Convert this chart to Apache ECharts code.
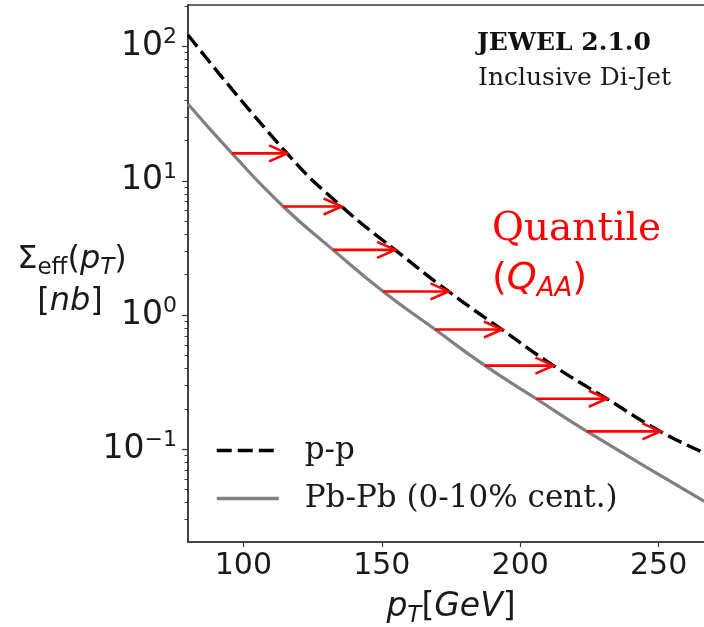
<!DOCTYPE html>
<html><head><meta charset="utf-8">
<script src="https://cdn.jsdelivr.net/npm/echarts@6/dist/echarts.min.js"></script>
<style>html,body{margin:0;padding:0;background:#fff}#c{width:704px;height:627px}</style>
</head><body><div id="c"></div>
<script>
// p-p (dashed black)
const ppX = [80, 115.8, 135.5, 154.8, 174.1, 193.4, 212, 231.3, 250.6, 266.5];
const ppY = [122, 16, 6.44, 3.06, 1.5, 0.78, 0.42, 0.238, 0.136, 0.094];
// Pb-Pb 0-10% (solid grey)
const pbX = [80, 95.9, 114.4, 132.4, 150.5, 169.3, 187.3, 205.8, 224.1, 266.5];
const pbY = [37.3, 16, 6.44, 3.06, 1.5, 0.78, 0.42, 0.238, 0.136, 0.041];
// quantile arrows
const arrowFrom = [95.9, 114.4, 132.4, 150.5, 169.3, 187.3, 205.8, 224.1];
const arrowTo = [115.8, 135.5, 154.8, 174.1, 193.4, 212, 231.3, 250.6];
const arrowY = [16, 6.44, 3.06, 1.5, 0.78, 0.42, 0.238, 0.136];
// ticks
const xTicks = [100, 150, 200, 250];
const yMajor = [0.1, 1, 10, 100];
const yMinor = [0.03,0.04,0.05,0.06,0.07,0.08,0.09,0.2,0.3,0.4,0.5,0.6,0.7,0.8,0.9,2,3,4,5,6,7,8,9,20,30,40,50,60,70,80,90,200];
const names = ['p-p', 'Pb-Pb (0-10% cent.)'];

const X_MIN = 80, X_MAX = 270, Y_MIN = 0.0204, Y_MAX = 204;
const sans = '"DejaVu Sans"', serif = '"DejaVu Serif"';
const spine = '#3a3a3a';

const chart = echarts.init(document.getElementById('c'), null, {renderer: 'canvas'});

const yLogAxisBase = {type: 'log', logBase: 10, min: Y_MIN, max: Y_MAX, gridIndex: 0, position: 'left'};

chart.setOption({
  animation: false,
  backgroundColor: '#fff',
  grid: {left: 188, right: -10, top: 5, bottom: 85, show: true, borderColor: spine, borderWidth: 1.6,
         backgroundColor: 'transparent', containLabel: false, outerBoundsMode: 'none'},
  legend: {
    data: names, orient: 'vertical', left: 215, top: 435, padding: 0,
    itemWidth: 62, itemHeight: 30, itemGap: 17, selectedMode: false,
    itemStyle: {opacity: 0},
    lineStyle: {width: 3.5},
    textStyle: {fontFamily: serif, fontSize: 31, color: '#1a1a1a', padding: [0, 0, 0, 21]}
  },
  xAxis: {
    type: 'value', min: X_MIN, max: X_MAX,
    axisLine: {show: true, lineStyle: {color: spine, width: 1.6}},
    axisTick: {show: true, length: 5, customValues: xTicks, lineStyle: {color: spine, width: 1.2}},
    axisLabel: {customValues: xTicks, fontFamily: sans, fontSize: 30, color: '#1a1a1a', margin: 9},
    splitLine: {show: false},
    name: '{i|p}{isub|T}{s|[}{i|GeV}{s|]}',
    nameLocation: 'middle', nameGap: 44,
    nameTextStyle: {
      rich: {
        i: {fontFamily: sans, fontStyle: 'italic', fontSize: 33, color: '#1a1a1a', lineHeight: 42, verticalAlign: 'middle'},
        s: {fontFamily: sans, fontSize: 33, color: '#1a1a1a', lineHeight: 42, verticalAlign: 'middle'},
        isub: {fontFamily: sans, fontStyle: 'italic', fontSize: 23, color: '#1a1a1a', lineHeight: 26, verticalAlign: 'bottom'}
      }
    }
  },
  yAxis: [
    Object.assign({}, yLogAxisBase, {
      axisLine: {show: true, lineStyle: {color: spine, width: 1.6}},
      axisTick: {show: true, length: 6, customValues: yMajor, lineStyle: {color: spine, width: 1.2}},
      axisLabel: {
        customValues: yMajor, margin: 11,
        formatter: function (v) {
          const e = Math.round(Math.log10(v));
          return '{b|10}{s|' + (e < 0 ? '\u2212' + (-e) : e) + '}';
        },
        rich: {
          b: {fontFamily: sans, fontSize: 33, color: '#1a1a1a', lineHeight: 40, verticalAlign: 'middle'},
          s: {fontFamily: sans, fontSize: 22, color: '#1a1a1a', lineHeight: 26, verticalAlign: 'top'}
        }
      },
      splitLine: {show: false}
    }),
    Object.assign({}, yLogAxisBase, {
      axisLine: {show: false},
      axisTick: {show: true, length: 3.5, customValues: yMinor, lineStyle: {color: spine, width: 1}},
      axisLabel: {show: false},
      splitLine: {show: false}
    })
  ],
  series: [
    {
      name: names[0], type: 'line', yAxisIndex: 0, symbol: 'none', smooth: 0.5,
      data: ppX.map((x, i) => [x, ppY[i]]),
      lineStyle: {color: '#000', width: 3.4, type: [15, 6]}, itemStyle: {color: '#000'}, z: 3
    },
    {
      name: names[1], type: 'line', yAxisIndex: 0, symbol: 'none', smooth: 0.5,
      data: pbX.map((x, i) => [x, pbY[i]]),
      lineStyle: {color: '#808080', width: 3.2}, itemStyle: {color: '#808080'}, z: 2
    },
    {
      type: 'custom', yAxisIndex: 0, z: 4,
      encode: {x: [0, 1], y: 2},
      data: arrowFrom.map((x, i) => [x, arrowTo[i], arrowY[i]]),
      renderItem: function (params, api) {
        const p0 = api.coord([api.value(0), api.value(2)]);
        const p1 = api.coord([api.value(1), api.value(2)]);
        const st = {stroke: '#ff0000', lineWidth: 2.6, fill: null};
        return {
          type: 'group',
          children: [
            {type: 'line', shape: {x1: p0[0], y1: p0[1], x2: p1[0] - 1, y2: p1[1]}, style: st},
            {type: 'polyline', shape: {points: [[p1[0] - 18, p1[1] - 8], [p1[0], p1[1]], [p1[0] - 18, p1[1] + 8]]}, style: st}
          ]
        };
      }
    }
  ],
  graphic: [
    {type: 'text', x: 477, y: 43, style: {text: 'JEWEL 2.1.0', font: 'bold 25px ' + serif, fill: '#111', textVerticalAlign: 'middle'}},
    {type: 'text', x: 478, y: 78, style: {text: 'Inclusive Di-Jet', font: '25px ' + serif, fill: '#1a1a1a', textVerticalAlign: 'middle'}},
    {type: 'text', x: 492, y: 230, style: {text: 'Quantile', font: '39px ' + serif, fill: '#ff0000', textVerticalAlign: 'middle'}},
    {type: 'text', x: 492, y: 279, style: {
      text: '{s|(}{i|Q}{sub|AA}{s|)}', textVerticalAlign: 'middle',
      rich: {
        s: {fontFamily: sans, fontSize: 38, fill: '#ff0000', lineHeight: 46, verticalAlign: 'middle'},
        i: {fontFamily: sans, fontStyle: 'italic', fontSize: 38, fill: '#ff0000', lineHeight: 46, verticalAlign: 'middle'},
        sub: {fontFamily: sans, fontStyle: 'italic', fontSize: 26, fill: '#ff0000', lineHeight: 28, verticalAlign: 'bottom'}
      }
    }},
    {type: 'text', x: 72, y: 260, style: {
      text: '{s|\u03A3}{sub|eff}{s|(}{i|p}{isub|T}{s|)}', textAlign: 'center', textVerticalAlign: 'middle',
      rich: {
        s: {fontFamily: sans, fontSize: 32, fill: '#1a1a1a', lineHeight: 40, verticalAlign: 'middle'},
        i: {fontFamily: sans, fontStyle: 'italic', fontSize: 32, fill: '#1a1a1a', lineHeight: 40, verticalAlign: 'middle'},
        sub: {fontFamily: sans, fontSize: 23, fill: '#1a1a1a', lineHeight: 26, verticalAlign: 'bottom'},
        isub: {fontFamily: sans, fontStyle: 'italic', fontSize: 23, fill: '#1a1a1a', lineHeight: 26, verticalAlign: 'bottom'}
      }
    }},
    {type: 'text', x: 70, y: 302, style: {
      text: '{s|[}{i|nb}{s|]}', textAlign: 'center', textVerticalAlign: 'middle',
      rich: {
        s: {fontFamily: sans, fontSize: 32, fill: '#1a1a1a', lineHeight: 40, verticalAlign: 'middle'},
        i: {fontFamily: sans, fontStyle: 'italic', fontSize: 32, fill: '#1a1a1a', lineHeight: 40, verticalAlign: 'middle'}
      }
    }}
  ]
});
</script>
</body></html>
